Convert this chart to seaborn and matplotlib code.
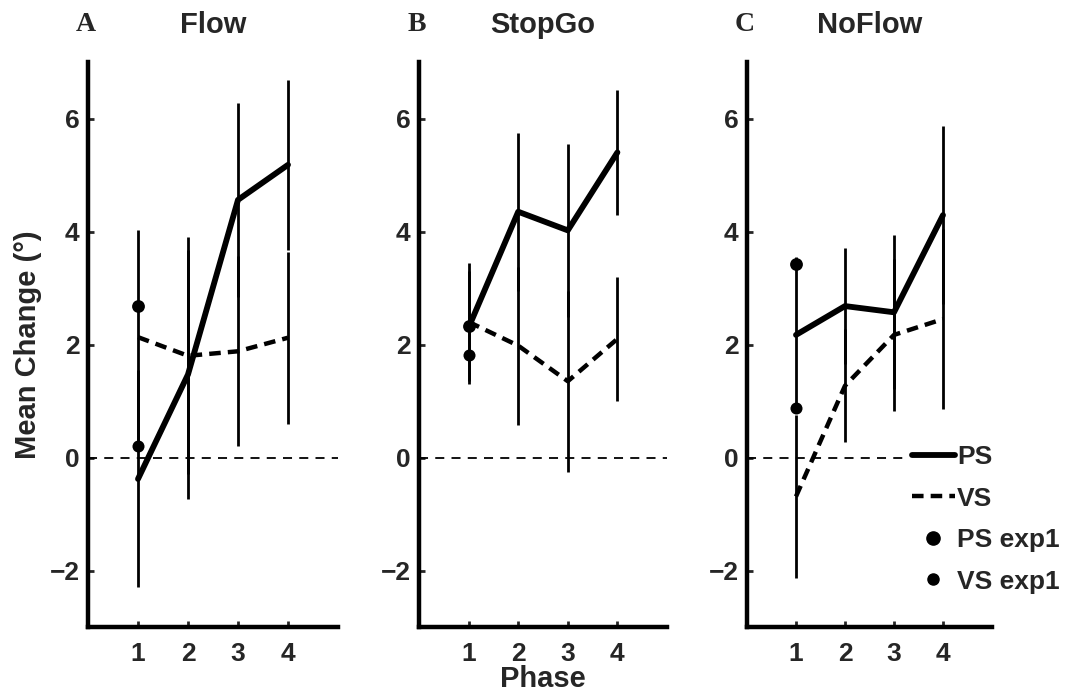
import matplotlib
matplotlib.use("Agg")
import matplotlib.pyplot as plt
from matplotlib.lines import Line2D
import seaborn as sns
import pandas as pd

# Phases and per-condition means / errors (degrees)
phases = [1, 2, 3, 4]
conditions = ["Flow", "StopGo", "NoFlow"]
panel_letters = ["A", "B", "C"]

flow_ps = [-0.38, 1.47, 4.56, 5.18]
flow_ps_err = [1.92, 2.20, 1.72, 1.50]
flow_vs = [2.13, 1.80, 1.88, 2.12]
flow_vs_err = [1.90, 2.10, 1.68, 1.52]
flow_exp1 = [2.68, 0.20]      # PS exp1, VS exp1 at phase 1

stopgo_ps = [2.30, 4.35, 4.02, 5.40]
stopgo_ps_err = [1.00, 1.40, 1.53, 1.10]
stopgo_vs = [2.40, 1.98, 1.35, 2.10]
stopgo_vs_err = [1.05, 1.40, 1.60, 1.10]
stopgo_exp1 = [2.33, 1.82]

noflow_ps = [2.17, 2.68, 2.57, 4.29]
noflow_ps_err = [1.38, 1.02, 1.36, 1.57]
noflow_vs = [-0.69, 1.27, 2.17, 2.45]
noflow_vs_err = [1.45, 1.00, 1.35, 1.59]
noflow_exp1 = [3.43, 0.88]

y_ticks = [-2, 0, 2, 4, 6]
x_ticks = [1, 2, 3, 4]

series = {
    "Flow": (flow_ps, flow_ps_err, flow_vs, flow_vs_err, flow_exp1),
    "StopGo": (stopgo_ps, stopgo_ps_err, stopgo_vs, stopgo_vs_err, stopgo_exp1),
    "NoFlow": (noflow_ps, noflow_ps_err, noflow_vs, noflow_vs_err, noflow_exp1),
}

sns.set_style("ticks")
plt.rcParams["font.family"] = ["Liberation Sans", "DejaVu Sans"]
plt.rcParams["font.weight"] = "bold"
plt.rcParams["axes.labelweight"] = "bold"

fig = plt.figure(figsize=(10.76, 6.93), dpi=100)
W, H = 1076, 693
boxes = [(88, 250), (419, 248), (747, 245)]
top_px, bot_px = 62, 627

vs_dash = (0, (2.6, 1.6))

for i, (cond, letter) in enumerate(zip(conditions, panel_letters)):
    left, width = boxes[i]
    ax = fig.add_axes([left / W, 1 - bot_px / H, width / W, (bot_px - top_px) / H])
    ps, ps_err, vs, vs_err, exp1 = series[cond]
    df = pd.DataFrame({"phase": phases, "PS": ps, "VS": vs})

    ax.axhline(0, color="black", lw=1.3, ls=(0, (5, 4)), zorder=1)
    ax.errorbar(phases, ps, yerr=ps_err, fmt="none", ecolor="black",
                elinewidth=2.0, capsize=0, zorder=2)
    ax.errorbar(phases, vs, yerr=vs_err, fmt="none", ecolor="black",
                elinewidth=2.0, capsize=0, zorder=2)
    sns.lineplot(data=df, x="phase", y="PS", ax=ax, color="black", lw=4.2,
                 zorder=3, legend=False)
    sns.lineplot(data=df, x="phase", y="VS", ax=ax, color="black", lw=3.2,
                 linestyle=vs_dash, zorder=3, legend=False)
    sns.scatterplot(x=[1], y=[exp1[0]], ax=ax, color="black", s=85,
                    edgecolor="black", linewidth=0, zorder=4, legend=False)
    sns.scatterplot(x=[1], y=[exp1[1]], ax=ax, color="black", s=75,
                    edgecolor="black", linewidth=0, zorder=4, legend=False)

    ax.set_xlim(0, 5)
    ax.set_ylim(-3, 7)
    ax.set_xticks(x_ticks)
    ax.set_yticks(y_ticks)
    ax.tick_params(direction="in", length=4, width=2, labelsize=19, pad=6)
    ax.tick_params(axis="x", pad=11)
    for lab in ax.get_xticklabels() + ax.get_yticklabels():
        lab.set_fontweight("bold")
    sns.despine(ax=ax)
    for side in ("left", "bottom"):
        ax.spines[side].set_linewidth(3.2)
        ax.spines[side].set_color("black")

    ax.set_xlabel("")
    ax.set_ylabel("")
    ax.text(0.5, 1.066, cond, transform=ax.transAxes, ha="center", va="center",
            fontsize=21, fontweight="bold")
    ax.text(-0.01, 1.066, letter, transform=ax.transAxes, ha="center", va="center",
            fontsize=20, fontweight="bold", family=["Liberation Serif", "DejaVu Serif"])

    if i == 0:
        ax.set_ylabel("Mean Change (°)", fontsize=21, fontweight="bold")
        ax.yaxis.set_label_coords(-0.185, 0.5)
    if i == 1:
        ax.set_xlabel("Phase", fontsize=21, fontweight="bold")
        ax.xaxis.set_label_coords(0.5, -0.068)
    if i == 2:
        handles = [
            Line2D([], [], color="black", lw=4.2),
            Line2D([], [], color="black", lw=3.2, ls=vs_dash),
            Line2D([], [], color="black", marker="o", ls="none", markersize=9.5),
            Line2D([], [], color="black", marker="o", ls="none", markersize=8),
        ]
        leg = ax.legend(handles, ["PS", "VS", "PS exp1", "VS exp1"], frameon=True,
                        loc="upper left",
                        bbox_to_anchor=((907 - left) / width, (bot_px - 440) / (bot_px - top_px)),
                        handlelength=1.6, handletextpad=0.1, labelspacing=0.66,
                        borderaxespad=0, borderpad=0.2, fancybox=False,
                        prop={"size": 19, "weight": "bold"})
        leg.get_frame().set_facecolor("white")
        leg.get_frame().set_edgecolor("none")
        leg.get_frame().set_alpha(1.0)
        leg.set_zorder(5)

fig.savefig("out.png", dpi=100)
